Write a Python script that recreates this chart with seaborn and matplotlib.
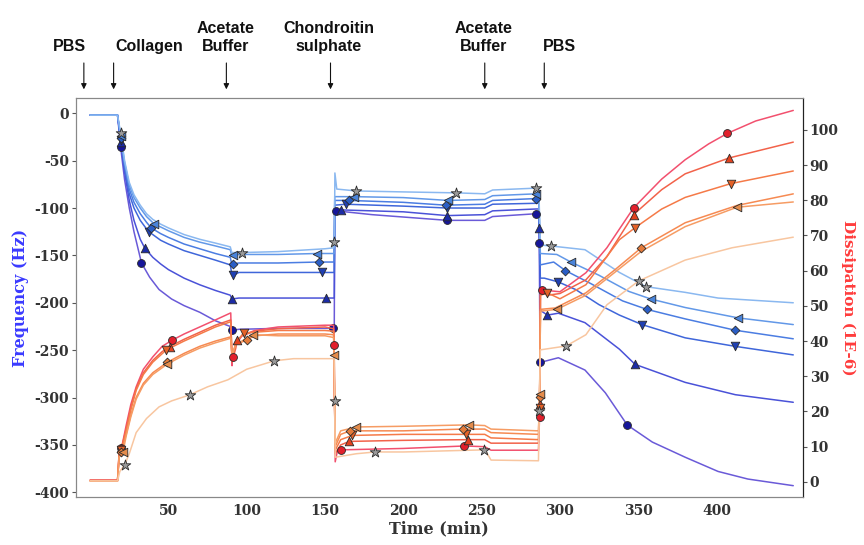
import numpy as np
import pandas as pd
import matplotlib
matplotlib.use("Agg")
import matplotlib.pyplot as plt
import seaborn as sns

# ---- frequency shift curves (Hz), one per overtone ----
f_circle_t = [0, 17.5, 19.5, 22, 25, 28, 32.8, 38, 44, 52, 60, 70, 80, 89.5, 90.5, 95, 120, 150, 155, 155.9, 156.2, 157.3, 180, 228, 252, 257, 285, 286.5, 286.8, 287.3, 299, 316, 329, 343, 359, 380, 401, 420, 449]
f_circle = [-2, -2, -36, -70, -100, -125, -158, -173, -186, -196, -203, -210, -219, -225, -229, -228, -227, -227, -227, -226, -104, -103, -107, -113, -113, -109, -106, -106, -137, -263, -258, -271, -295, -329, -347, -363, -378, -386, -393]
f_circle_mk = [19.5, 32.8, 90.5, 155, 157.3, 228, 285, 286.8, 287.3, 343]

f_up_t = [0, 17.5, 19.5, 22, 25, 28, 32, 34.8, 40, 45, 50, 60, 70, 80, 89.5, 90.5, 95, 120, 150.8, 155.9, 156.2, 160.4, 200, 228, 252, 257, 285, 286.5, 286.8, 287.5, 292, 299, 316, 338, 348, 380, 412, 449]
f_up = [-2, -2, -30, -62, -92, -113, -133, -142, -152, -159, -165, -174, -181, -187, -192, -196, -195, -195, -195, -195, -103, -102, -104, -108, -107, -103, -101, -101, -121, -208, -213, -211, -221, -249, -265, -284, -297, -305]
f_up_mk = [19.5, 34.8, 90.5, 150.8, 160.4, 228, 286.8, 292, 348]

f_down_t = [0, 17.5, 19.5, 22, 25, 28, 32, 37.3, 40, 45, 50, 60, 70, 80, 89.5, 90.5, 91.5, 95, 120, 148, 155.9, 156.2, 163.6, 200, 228, 252, 257, 285, 286.5, 287.5, 290, 299, 310, 325, 338, 352.4, 380, 412, 449]
f_down = [-2, -2, -28, -58, -85, -100, -113, -125, -128, -134, -138, -145, -150, -155, -160, -170, -171, -168, -168, -168, -168, -97, -96, -98, -100, -100, -96, -95, -95, -174, -174, -178, -186, -202, -213, -223, -237, -246, -255]
f_down_mk = [19.5, 37.3, 91.5, 148, 163.6, 228, 299, 352.4, 412]

f_diamond_t = [0, 17.5, 19.5, 22, 25, 28, 32, 36, 39, 45, 50, 60, 70, 80, 89.5, 90.5, 91.5, 95, 120, 146, 155.9, 156.2, 165.5, 200, 227, 252, 257, 285, 286.5, 287.5, 296, 303.5, 320, 340, 355.6, 380, 412, 449]
f_diamond = [-2, -2, -26, -55, -80, -94, -106, -115, -121, -127, -131, -138, -143, -148, -152, -160, -159, -158, -158, -157, -157, -92, -92, -94, -97, -96, -92, -90, -90, -160, -157, -166, -180, -198, -207, -217, -229, -238]
f_diamond_mk = [19.5, 39, 91.5, 146, 165.5, 227, 285, 303.5, 355.6, 412]

f_left_t = [0, 17.5, 19.5, 22, 25, 28, 32, 36, 41, 45, 50, 60, 70, 80, 89.5, 90.5, 91.5, 95, 120, 145, 155.9, 156.2, 168.7, 200, 228.6, 252, 257, 285, 286.5, 287.5, 298, 307, 325, 344, 358, 380, 414, 449]
f_left = [-2, -2, -24, -52, -76, -89, -100, -109, -117, -120, -124, -131, -136, -140, -144, -151, -150, -149, -149, -148, -148, -88, -88, -89, -92, -91, -87, -85, -85, -148, -149, -157, -171, -188, -196, -205, -216, -223]
f_left_mk = [19.5, 41, 91.5, 145, 168.7, 228.6, 285, 307, 358, 414]

f_star_t = [0, 17.5, 19.5, 22, 25, 28, 32, 36, 40, 45, 50, 60, 70, 80, 89.5, 90.5, 96.7, 120, 150, 155.5, 156, 156.3, 157.5, 170, 200, 233.7, 252, 257, 285, 286.5, 287.5, 294, 316, 338, 355, 380, 401, 449]
f_star = [-2, -2, -21, -50, -73, -86, -97, -106, -112, -117, -121, -128, -133, -137, -141, -147, -147, -146, -143, -142, -136, -63, -80, -82, -83, -84, -85, -81, -79, -79, -139, -140, -144, -168, -183, -189, -195, -200]
f_star_mk = [19.5, 96.7, 156, 170, 233.7, 285, 294, 355]

# ---- dissipation curves (1E-6) ----
d_circle_t = [0, 17.5, 18.5, 20, 23, 26, 29.4, 34, 40, 46, 52.6, 60, 70, 80, 89.8, 90.6, 91, 93, 97, 105, 120, 150, 155.5, 155.8, 156.5, 158, 160, 200, 239, 252, 256, 286.3, 287, 287.5, 288.6, 300, 316.6, 330, 347, 365, 380, 395, 407, 425, 449]
d_circle = [0.5, 0.5, 8, 9.5, 16, 22, 27, 32, 35.5, 38.5, 40.3, 42, 44, 46, 48, 33, 35.5, 39, 41.5, 43, 44, 44.5, 44.5, 39, 5.7, 9, 9.1, 9.5, 10.2, 10, 9, 9, 18.5, 55, 54.5, 54, 59.4, 66.5, 77.8, 86, 91.5, 96, 99, 102.5, 105.5]
d_circle_mk = [20, 52.6, 91, 155.8, 160, 239, 287, 288.6, 347, 407]

d_up_t = [0, 17.5, 18.5, 20, 23, 26, 29.4, 34, 40, 46, 50.7, 60, 70, 80, 89.8, 90.6, 93, 94, 97, 105, 120, 150, 155.5, 156.5, 160, 165.5, 200, 241, 252, 256, 286.3, 287, 287.6, 292, 300, 316.6, 330, 347, 365, 380, 408, 449]
d_up = [0.5, 0.5, 8, 9.5, 15, 21, 26.5, 31, 34.5, 37, 38.4, 40.5, 42.5, 44.5, 46, 34, 38, 40.3, 41.5, 42.8, 43.5, 44, 43.5, 8, 10.5, 11.5, 11.8, 12, 12, 11, 11, 22, 54, 53, 53.5, 57.4, 64, 75.9, 83, 87.5, 92, 96.5]
d_up_mk = [20, 50.7, 94, 165.5, 241, 287, 347, 408]

d_down_t = [0, 17.5, 18.5, 20, 23, 26, 29.4, 34, 40, 48.7, 60, 70, 80, 89.8, 90.6, 93, 98, 105, 120, 150, 155.5, 156.5, 160, 167.5, 200, 240, 252, 256, 286.3, 287, 287.6, 292, 300, 316.6, 338, 348, 365, 380, 409, 449]
d_down = [0.3, 0.3, 7.5, 9, 14.5, 20.5, 26, 30.5, 34, 37.5, 40, 42, 44, 45.5, 35, 39.5, 42.3, 42.5, 43, 43, 42.8, 9, 12, 13.2, 13.5, 13.5, 13.5, 12.5, 12, 21, 53, 53.7, 52, 56, 68.8, 72.2, 77.5, 80.8, 84.7, 88.3]
d_down_mk = [20, 48.7, 98, 167.5, 240, 287, 292, 348, 409]

d_diamond_t = [0, 17.5, 18.5, 20, 23, 26, 29.4, 34, 40, 49.4, 60, 70, 80, 89.8, 90.6, 93, 100, 105, 120, 150, 155.5, 156.5, 160, 166, 200, 238, 252, 256, 286.3, 287, 287.6, 297, 316.6, 335, 352, 380, 413, 449]
d_diamond = [0.3, 0.3, 7, 8.5, 13.5, 19, 24, 28, 31, 34, 36.5, 38.5, 40, 41.2, 36, 39, 40.3, 41.5, 42, 42, 41.8, 10, 13.5, 14.5, 14.5, 15, 15, 14, 13.5, 24, 49, 49.4, 53.7, 60.2, 66.5, 73.6, 78.5, 81.8]
d_diamond_mk = [20, 49.4, 100, 166, 238, 287, 352]

d_left_t = [0, 17.5, 18.5, 21, 23, 26, 29.4, 34, 40, 49.4, 60, 70, 80, 89.8, 90.6, 93, 104, 120, 150, 155.5, 155.9, 156.5, 160, 170, 200, 242, 252, 256, 286.3, 287, 287.6, 298, 316.6, 335, 352, 380, 413, 449]
d_left = [0.3, 0.3, 7, 8.5, 13, 18.5, 23.5, 27.5, 30.5, 33.5, 36, 38, 39.5, 40.8, 36, 39, 41.8, 41.5, 41.5, 41, 36, 11, 14.5, 15.6, 15.8, 16.2, 16, 15, 14.5, 25, 48.5, 49, 53, 59.5, 65.5, 72.5, 78, 79.5]
d_left_mk = [21, 49.4, 104, 155.9, 170, 242, 287, 298, 413]

d_star_t = [0, 17.5, 19, 22, 25, 29.4, 36, 44, 52, 63.5, 75, 88, 90, 100, 117.7, 130, 150, 155.8, 156.2, 156.5, 170, 182, 200, 251.5, 253, 256, 286.3, 286.8, 287.5, 304, 316.6, 330, 350.4, 380, 410, 449]
d_star = [0.3, 0.3, 3, 4.8, 8, 14, 18, 21.3, 23, 24.7, 27, 29, 29.5, 32, 34.4, 35, 35, 35, 23, 7, 8, 8.5, 8.5, 9.1, 8.5, 6.2, 6, 20, 37.5, 38.6, 41.8, 50.3, 57.1, 63, 66.5, 69.5]
d_star_mk = [22, 63.5, 117.7, 156.2, 182, 251.5, 286.8, 304, 350.4]

# injection events
event_labels = ["PBS", "Collagen", "Acetate\nBuffer", "Chondroitin\nsulphate", "Acetate\nBuffer", "PBS"]
event_times = [-4, 15, 87, 153.5, 252, 290]
label_times = [-13, 38, 86.5, 152.5, 251, 299.5]

overtones = ["circle", "up", "down", "diamond", "left", "star"]
shapes = {"circle": "o", "up": "^", "down": "v", "diamond": "D", "left": "<", "star": "*"}
sizes = {"circle": 32, "up": 38, "down": 38, "diamond": 20, "left": 38, "star": 64}

f_line = {"circle": "#6a5ad8", "up": "#4a52d8", "down": "#3f66da", "diamond": "#4b7de2", "left": "#6298e8", "star": "#8ab8f0"}
f_face = {"circle": "#16169a", "up": "#1c2ca6", "down": "#2040b2", "diamond": "#2a5ec6", "left": "#4a84da", "star": "#9a9a9a"}
d_line = {"circle": "#f2506e", "up": "#f2624a", "down": "#f57a48", "diamond": "#f68a52", "left": "#f69c64", "star": "#f8c6a0"}
d_face = {"circle": "#e2202c", "up": "#e2421f", "down": "#e46228", "diamond": "#e47a3a", "left": "#e48c4c", "star": "#9a9a9a"}

freq = {"circle": (f_circle_t, f_circle, f_circle_mk), "up": (f_up_t, f_up, f_up_mk),
        "down": (f_down_t, f_down, f_down_mk), "diamond": (f_diamond_t, f_diamond, f_diamond_mk),
        "left": (f_left_t, f_left, f_left_mk), "star": (f_star_t, f_star, f_star_mk)}
diss = {"circle": (d_circle_t, d_circle, d_circle_mk), "up": (d_up_t, d_up, d_up_mk),
        "down": (d_down_t, d_down, d_down_mk), "diamond": (d_diamond_t, d_diamond, d_diamond_mk),
        "left": (d_left_t, d_left, d_left_mk), "star": (d_star_t, d_star, d_star_mk)}


def long_frame(curves):
    rows = []
    for name, (t, v, mk) in curves.items():
        for ti, vi in zip(t, v):
            rows.append({"time": ti, "value": vi, "curve": name, "mark": ti in mk})
    return pd.DataFrame(rows)


df_f = long_frame(freq)
df_d = long_frame(diss)

sns.set_style("white")
plt.rcParams["axes.unicode_minus"] = False
plt.rcParams["font.family"] = ["DejaVu Serif"]

fig = plt.figure(figsize=(8.64, 5.45), dpi=100)
ax = fig.add_axes([0.088, 0.088, 0.841, 0.732])
ax2 = ax.twinx()


def draw(axis, df, line_pal, face_pal):
    sns.lineplot(data=df, x="time", y="value", hue="curve", palette=line_pal,
                 hue_order=overtones, sort=False, estimator=None, lw=1.1,
                 legend=False, ax=axis)
    m = df[df["mark"]]
    for name in overtones:
        sub = m[m["curve"] == name]
        sns.scatterplot(data=sub, x="time", y="value", marker=shapes[name],
                        color=face_pal[name], edgecolor="#2a2a2a", linewidth=0.6,
                        s=sizes[name], legend=False, ax=axis, zorder=4)


draw(ax, df_f, f_line, f_face)
draw(ax2, df_d, d_line, d_face)

ax.set_xlim(-9, 455)
ax.set_ylim(-405, 16)
ax2.set_ylim(-4.3, 109)
ax.set_xticks([50, 100, 150, 200, 250, 300, 350, 400])
ax.set_yticks(np.arange(-400, 1, 50))
ax2.set_yticks(np.arange(0, 101, 10))

for axis in (ax, ax2):
    axis.tick_params(length=3, width=0.8, color="#555555", labelcolor="#333333", pad=2)
for lab in ax.get_xticklabels() + ax.get_yticklabels() + ax2.get_yticklabels():
    lab.set_fontweight("bold")
    lab.set_fontsize(10)

ax.set_xlabel("Time (min)", fontsize=11.5, fontweight="bold", color="#333333", labelpad=2)
ax.set_ylabel("Frequency (Hz)", fontsize=11.5, fontweight="bold", color="#3a3aff", labelpad=4)
ax2.set_ylabel("Dissipation (1E-6)", fontsize=11, fontweight="bold", color="#ff3c3c",
               rotation=270, labelpad=12)

for axis in (ax, ax2):
    for side in ["left", "bottom", "top"]:
        axis.spines[side].set_color("#888888")
    axis.spines["right"].set_color("#222222")

for lt, et, lab in zip(label_times, event_times, event_labels):
    ax.annotate("", xy=(et, 1.015), xycoords=("data", "axes fraction"),
                xytext=(et, 1.095), textcoords=("data", "axes fraction"),
                arrowprops=dict(arrowstyle="-|>", color="#111111", lw=0.8, mutation_scale=8))
    ax.text(lt, 1.11, lab, transform=ax.get_xaxis_transform(), ha="center", va="bottom",
            fontsize=11.5, fontweight="bold", family=["Liberation Sans Narrow", "Liberation Sans"],
            linespacing=1.25, color="#111111")

fig.savefig("out.png", dpi=100)
